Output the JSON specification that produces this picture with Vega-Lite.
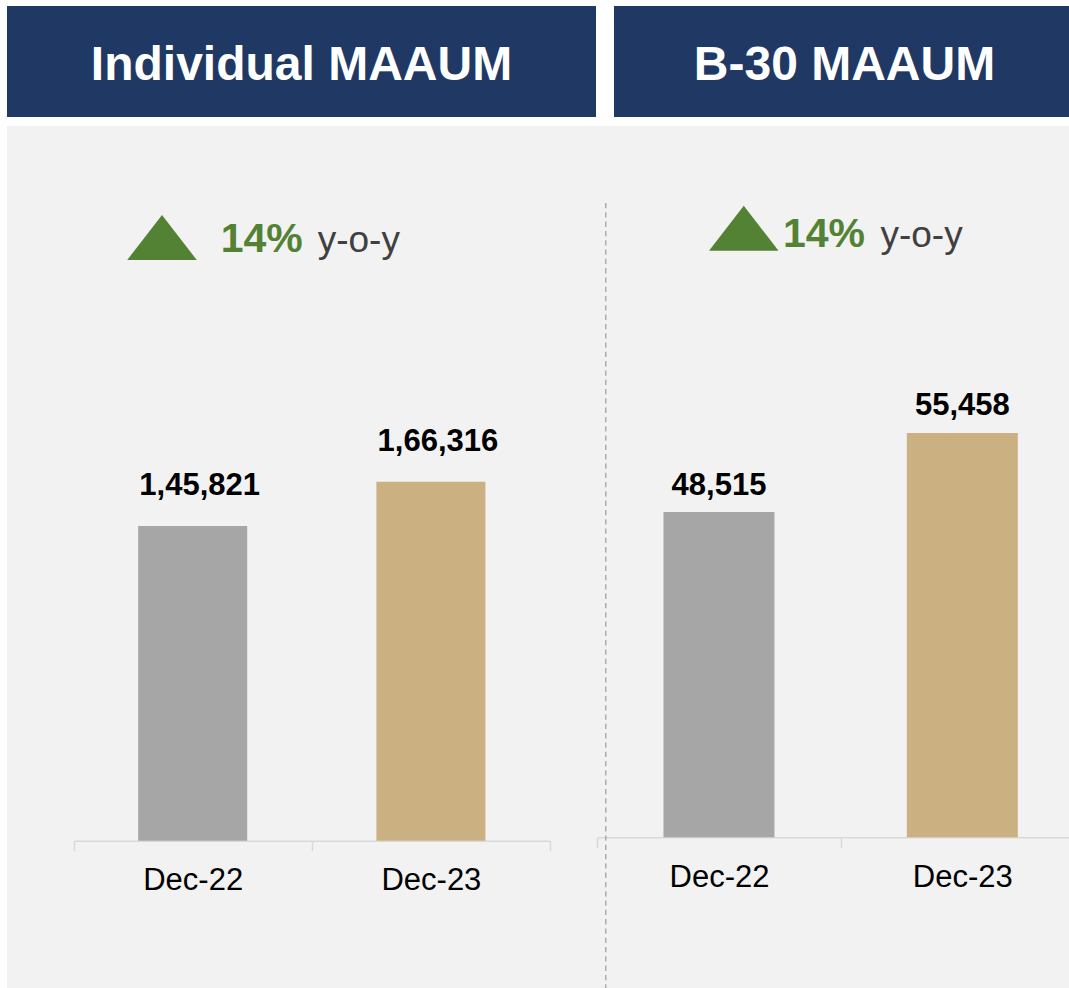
{
  "$schema": "https://vega.github.io/schema/vega-lite/v6.json",
  "padding": {"left": 7, "top": 6, "right": 0, "bottom": 0},
  "background": "#ffffff",
  "config": {"view": {"stroke": null}, "font": "Liberation Sans"},
  "datasets": {
    "hdr1": [{"title": "Individual MAAUM"}],
    "hdr2": [{"title": "B-30 MAAUM"}],
    "individual": [
      {"period": "Dec-22", "value": 145821, "label": "1,45,821"},
      {"period": "Dec-23", "value": 166316, "label": "1,66,316"}
    ],
    "b30": [
      {"period": "Dec-22", "value": 48515, "label": "48,515"},
      {"period": "Dec-23", "value": 55458, "label": "55,458"}
    ],
    "growth_ind": [{"growth": "14%", "suffix": "y-o-y"}],
    "growth_b30": [{"growth": "14%", "suffix": "y-o-y"}],
    "divider": [{"name": "divider"}]
  },
  "spacing": 9,
  "vconcat": [
    {
      "spacing": 18,
      "hconcat": [
        {
          "width": 589, "height": 111,
          "view": {"fill": "#203864", "stroke": null},
          "data": {"name": "hdr1"},
          "mark": {"type": "text", "fontWeight": "bold", "fontSize": 48, "color": "#ffffff", "baseline": "alphabetic", "dy": 18},
          "encoding": {"text": {"field": "title"}}
        },
        {
          "width": 461, "height": 111,
          "view": {"fill": "#203864", "stroke": null},
          "data": {"name": "hdr2"},
          "mark": {"type": "text", "fontWeight": "bold", "fontSize": 48, "color": "#ffffff", "baseline": "alphabetic", "dy": 18},
          "encoding": {"text": {"field": "title"}}
        }
      ]
    },
    {
      "width": 1062, "height": 862,
      "view": {"fill": "#f2f2f2", "stroke": null},
      "resolve": {"scale": {"x": "independent", "y": "independent", "color": "independent"}, "axis": {"x": "independent", "y": "independent"}},
      "layer": [
        {
          "data": {"name": "individual"},
          "layer": [
            {
              "mark": {"type": "bar", "size": 109},
              "encoding": {
                "x": {"field": "period", "type": "nominal",
                  "scale": {"type": "band", "domain": ["Dec-22", "Dec-23"], "range": [66.6, 543], "paddingInner": 0, "paddingOuter": 0},
                  "axis": {"orient": "bottom", "offset": -147.3, "title": null, "domainColor": "#d9d9d9", "domainWidth": 1.5, "tickColor": "#d9d9d9", "tickWidth": 1.5, "tickSize": 10, "tickBand": "extent", "labelFont": "Liberation Sans", "labelFontSize": 31, "labelColor": "#000000", "labelBaseline": "alphabetic", "labelPadding": 39, "labelAngle": 0, "grid": false, "labelOverlap": false}},
                "y": {"field": "value", "type": "quantitative", "scale": {"domain": [0, 300000], "range": [714.7, 67.45], "nice": false, "zero": true}, "axis": null},
                "color": {"field": "period", "type": "nominal", "scale": {"domain": ["Dec-22", "Dec-23"], "range": ["#a6a6a6", "#cbb082"]}, "legend": null}
              }
            },
            {
              "mark": {"type": "text", "fontWeight": "bold", "fontSize": 31, "color": "#000000", "baseline": "alphabetic", "dx": 7, "dy": -31},
              "encoding": {
                "x": {"field": "period", "type": "nominal"},
                "y": {"field": "value", "type": "quantitative"},
                "text": {"field": "label"}
              }
            },
            {
              "data": {"name": "growth_ind"},
              "mark": {"type": "point", "shape": "M0,-0.647L1,0.647L-1,0.647Z", "size": 4830, "filled": true, "color": "#548235", "opacity": 1, "strokeWidth": 0, "xOffset": -30.7},
              "encoding": {"x": {"datum": "Dec-22", "type": "nominal"}, "y": {"datum": 279600, "type": "quantitative"}}
            },
            {
              "data": {"name": "growth_ind"},
              "mark": {"type": "text", "align": "left", "baseline": "alphabetic", "fontWeight": "bold", "fontSize": 41, "color": "#548235", "dx": 28},
              "encoding": {"x": {"datum": "Dec-22", "type": "nominal"}, "y": {"datum": 273000, "type": "quantitative"}, "text": {"field": "growth"}}
            },
            {
              "data": {"name": "growth_ind"},
              "mark": {"type": "text", "align": "left", "baseline": "alphabetic", "fontSize": 37, "color": "#404040", "dx": 125},
              "encoding": {"x": {"datum": "Dec-22", "type": "nominal"}, "y": {"datum": 273000, "type": "quantitative"}, "text": {"field": "suffix"}}
            }
          ]
        },
        {
          "data": {"name": "b30"},
          "layer": [
            {
              "mark": {"type": "bar", "size": 111},
              "encoding": {
                "x": {"field": "period", "type": "nominal",
                  "scale": {"type": "band", "domain": ["Dec-22", "Dec-23"], "range": [590.3, 1077], "paddingInner": 0, "paddingOuter": 0},
                  "axis": {"orient": "bottom", "offset": -150.7, "title": null, "domainColor": "#d9d9d9", "domainWidth": 1.5, "tickColor": "#d9d9d9", "tickWidth": 1.5, "tickSize": 10, "tickBand": "extent", "labelFont": "Liberation Sans", "labelFontSize": 31, "labelColor": "#000000", "labelBaseline": "alphabetic", "labelPadding": 39, "labelAngle": 0, "grid": false, "labelOverlap": false}},
                "y": {"field": "value", "type": "quantitative", "scale": {"domain": [20000, 80000], "range": [711.3, 27.0], "nice": false, "zero": false}, "axis": null},
                "y2": {"datum": 20000},
                "color": {"field": "period", "type": "nominal", "scale": {"domain": ["Dec-22", "Dec-23"], "range": ["#a6a6a6", "#cbb082"]}, "legend": null}
              }
            },
            {
              "mark": {"type": "text", "fontWeight": "bold", "fontSize": 31, "color": "#000000", "baseline": "alphabetic", "dy": -17.5},
              "encoding": {
                "x": {"field": "period", "type": "nominal"},
                "y": {"field": "value", "type": "quantitative"},
                "text": {"field": "label"}
              }
            },
            {
              "data": {"name": "growth_b30"},
              "mark": {"type": "point", "shape": "M0,-0.647L1,0.647L-1,0.647Z", "size": 4830, "filled": true, "color": "#548235", "opacity": 1, "strokeWidth": 0, "xOffset": 24.8},
              "encoding": {"x": {"datum": "Dec-22", "type": "nominal"}, "y": {"datum": 73406, "type": "quantitative"}}
            },
            {
              "data": {"name": "growth_b30"},
              "mark": {"type": "text", "align": "left", "baseline": "alphabetic", "fontWeight": "bold", "fontSize": 41, "color": "#548235", "dx": 64},
              "encoding": {"x": {"datum": "Dec-22", "type": "nominal"}, "y": {"datum": 71732, "type": "quantitative"}, "text": {"field": "growth"}}
            },
            {
              "data": {"name": "growth_b30"},
              "mark": {"type": "text", "align": "left", "baseline": "alphabetic", "fontSize": 37, "color": "#404040", "dx": 161.5},
              "encoding": {"x": {"datum": "Dec-22", "type": "nominal"}, "y": {"datum": 71732, "type": "quantitative"}, "text": {"field": "suffix"}}
            },
            {
              "data": {"name": "divider"},
              "mark": {"type": "rule", "color": "#a0a0a0", "strokeWidth": 1.25, "strokeDash": [5.3, 4], "xOffset": -113.2},
              "encoding": {"x": {"datum": "Dec-22", "type": "nominal"}, "y": {"datum": 75616, "type": "quantitative"}, "y2": {"datum": 6786}}
            }
          ]
        }
      ]
    }
  ]
}
